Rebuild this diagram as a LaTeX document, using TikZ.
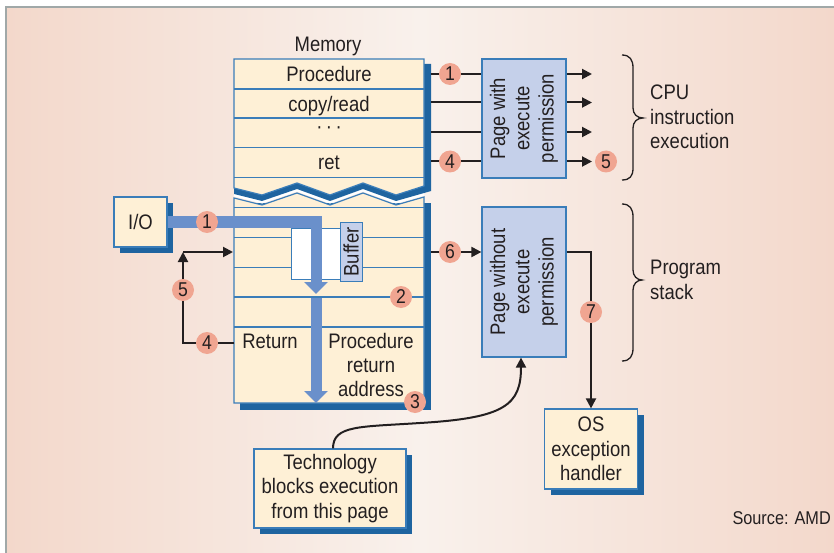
\documentclass[tikz,border=0pt]{standalone}
\usepackage{fontspec}
\setmainfont{Liberation Sans}[FakeStretch=0.88]
\usetikzlibrary{arrows.meta,shadows}

\definecolor{bgside}{RGB}{243,216,203}
\definecolor{bgmid}{RGB}{249,241,236}
\definecolor{framegray}{RGB}{160,168,168}
\definecolor{cream}{RGB}{254,240,214}
\definecolor{edgeblue}{RGB}{58,125,185}
\definecolor{shadowblue}{RGB}{30,100,160}
\definecolor{pagefill}{RGB}{197,208,234}
\definecolor{flowblue}{RGB}{106,144,203}
\definecolor{badge}{RGB}{240,165,145}
\definecolor{ink}{RGB}{35,31,32}

\begin{document}
\begin{tikzpicture}[x=1pt,y=-1pt,
  txt/.style={text=ink, font=\fontsize{21}{24.3}\selectfont, inner sep=0pt, align=center},
  rule/.style={draw=edgeblue, line width=1.2pt},
  box/.style={txt, draw=edgeblue, line width=1.2pt, fill=cream,
    drop shadow={shadow xshift=6pt, shadow yshift=-6pt, fill=shadowblue, opacity=1}},
  page/.style={txt, draw=edgeblue, line width=1.2pt, fill=pagefill, rotate=90,
    minimum height=84pt},
  bufbox/.style={txt, draw=edgeblue, line width=1pt, fill=pagefill, rotate=90,
    minimum width=58pt, minimum height=22pt},
  num/.style={circle, fill=badge, inner sep=0pt, minimum size=22pt, text=ink,
    font=\fontsize{20}{20}\selectfont},
  conn/.style={draw=ink, line width=2pt},
  arr/.style={conn, -{Triangle[length=10pt,width=10pt]}},
  flow/.style={draw=flowblue, line width=11pt, line join=miter,
    -{Triangle[length=12pt,width=23pt]}},
  brace/.style={draw=ink, line width=1.3pt}
]
\useasboundingbox (0,0) rectangle (834,553);
\fill[white] (0,0) rectangle (834,553);
\shade[left color=bgside, right color=bgside, middle color=bgmid] (6,7) rectangle (834,553);
\draw[framegray, line width=1.3pt] (6,553) -- (6,7) -- (834,7);

% lower (stack) part of memory
\fill[shadowblue] (240,203) rectangle (431,410);
\draw[rule, fill=cream] (234,198) -- (262,205) -- (297,193) -- (330,205) -- (363,193)
  -- (396,205) -- (424,197) -- (424,403) -- (234,403) -- cycle;
\draw[white, line width=3pt] (234,195) -- (262,202) -- (297,190) -- (330,202) -- (363,190)
  -- (396,202) -- (424,194);
\foreach \y in {207.5,237.5,267.5,297,327} \draw[rule] (234,\y) -- (424,\y);

% upper (code) part of memory
\fill[shadowblue] (240,64) -- (431,64) -- (431,191) -- (396,201) -- (363,189) -- (330,201)
  -- (297,189) -- (262,201) -- (234,194) -- cycle;
\draw[rule, fill=cream] (234,59) -- (424,59) -- (424,186) -- (396,195) -- (363,183)
  -- (330,195) -- (297,183) -- (262,195) -- (234,188) -- cycle;
\foreach \y in {89,118,147.5,177.5} \draw[rule] (234,\y) -- (424,\y);

\node[txt, anchor=base] (memlabel) at (328,52) {Memory};
\node[txt, anchor=base] (rproc) at (329,81.7) {Procedure};
\node[txt, anchor=base] (rcopy) at (329,111.5) {copy/read};
\node[txt] (rdots) at (329,130) {\textperiodcentered\,\textperiodcentered\,\textperiodcentered};
\node[txt, anchor=base] (rret) at (329,170) {ret};
\node[txt, anchor=base] (retlbl) at (270,348.3) {Return};
\node[txt] (praddr) at (371,365) {Procedure\\return\\address};

% buffer
\draw[rule, line width=1pt, fill=white] (291,228) rectangle (340,279);
\node[bufbox] (buf) at (351,252) {Buffer};

% I/O source
\node[box, minimum width=53pt, minimum height=50pt] (io) at (140.5,222) {I/O};

% overflowing input
\coordinate (flowA) at (316,294);
\coordinate (flowB) at (316,298);
\coordinate (flowC) at (316,403);
\draw[flow] (io.east) -- (316,222) -- (flowA);
\draw[flow] (flowB) -- (flowC);

% page boxes (rotated: north = left side, south = right side, west = bottom)
\node[page, minimum width=119pt] (pw) at (524,118.5) {Page with\\execute\\permission};
\node[page, minimum width=150pt] (pwo) at (524,282) {Page without\\execute\\permission};

% other boxes
\node[box, minimum width=93pt, minimum height=80pt] (os) at (591,449) {OS\\exception\\handler};
\node[box, minimum width=152pt, minimum height=79pt] (tech) at (330,488.5) {Technology\\blocks execution\\from this page};

% code page connectors
\coordinate (u1) at (431,74);
\coordinate (u2) at (431,102.5);
\coordinate (u3) at (431,132);
\coordinate (u4) at (431,161.5);
\coordinate (outx) at (592,0);
\foreach \u in {u1,u2,u3,u4} {
  \draw[conn] (\u) -- (\u -| pw.north);
  \draw[arr] (\u -| pw.south) -- (\u -| outx);
}
\node[num] (n1a) at (450,74) {1};
\node[num] (n4a) at (450,161.5) {4};
\node[num] (n5a) at (606,161.5) {5};

% stack page connectors
\coordinate (s6) at (431,252);
\coordinate (s7) at (591,252);
\draw[arr] (s6) -- (s6 -| pwo.north);
\draw[arr] (s6 -| pwo.south) -- (s7) -- (os.north);
\node[num] (n6) at (450,252) {6};
\node[num] (n7) at (591,312) {7};

% return loop
\coordinate (rl) at (234,343);
\coordinate (loopA) at (183,343);
\coordinate (loopB) at (183,252);
\coordinate (loopC) at (233,252);
\draw[arr] (rl) -- (loopA) -- (loopB);
\draw[arr] (loopB) -- (loopC);
\node[num] (n4b) at (207,343) {4};
\node[num] (n5b) at (183,290) {5};
\node[num] (n1b) at (207,222) {1};
\node[num] (n2) at (401,297) {2};
\node[num] (n3) at (415,402) {3};

% technology note
\draw[arr] ([xshift=3pt]tech.north) .. controls (333,425) and (360,427) .. (420,423)
  .. controls (505,418) and (521,405) .. ([xshift=-3pt]pwo.west);

% braces
\draw[brace] (622,55) .. controls (630,55) and (633,60) .. (633,68) -- (633,108)
  .. controls (633,114) and (637,118) .. (643,118)
  .. controls (637,118) and (633,122) .. (633,128) -- (633,168)
  .. controls (633,176) and (630,180) .. (622,180);
\draw[brace] (622,204) .. controls (630,204) and (633,209) .. (633,217) -- (633,270)
  .. controls (633,276) and (637,280) .. (642,280)
  .. controls (637,280) and (633,284) .. (633,290) -- (633,348)
  .. controls (633,356) and (630,361) .. (622,361);
\node[txt, anchor=west, align=left] (cpu) at (650,117) {CPU\\instruction\\execution};
\node[txt, anchor=west, align=left] (stk) at (650,280) {Program\\stack};

\node[txt, anchor=base east, font=\fontsize{18.5}{20}\selectfont] (src) at (831,524) {Source: AMD};
\end{tikzpicture}
\end{document}
